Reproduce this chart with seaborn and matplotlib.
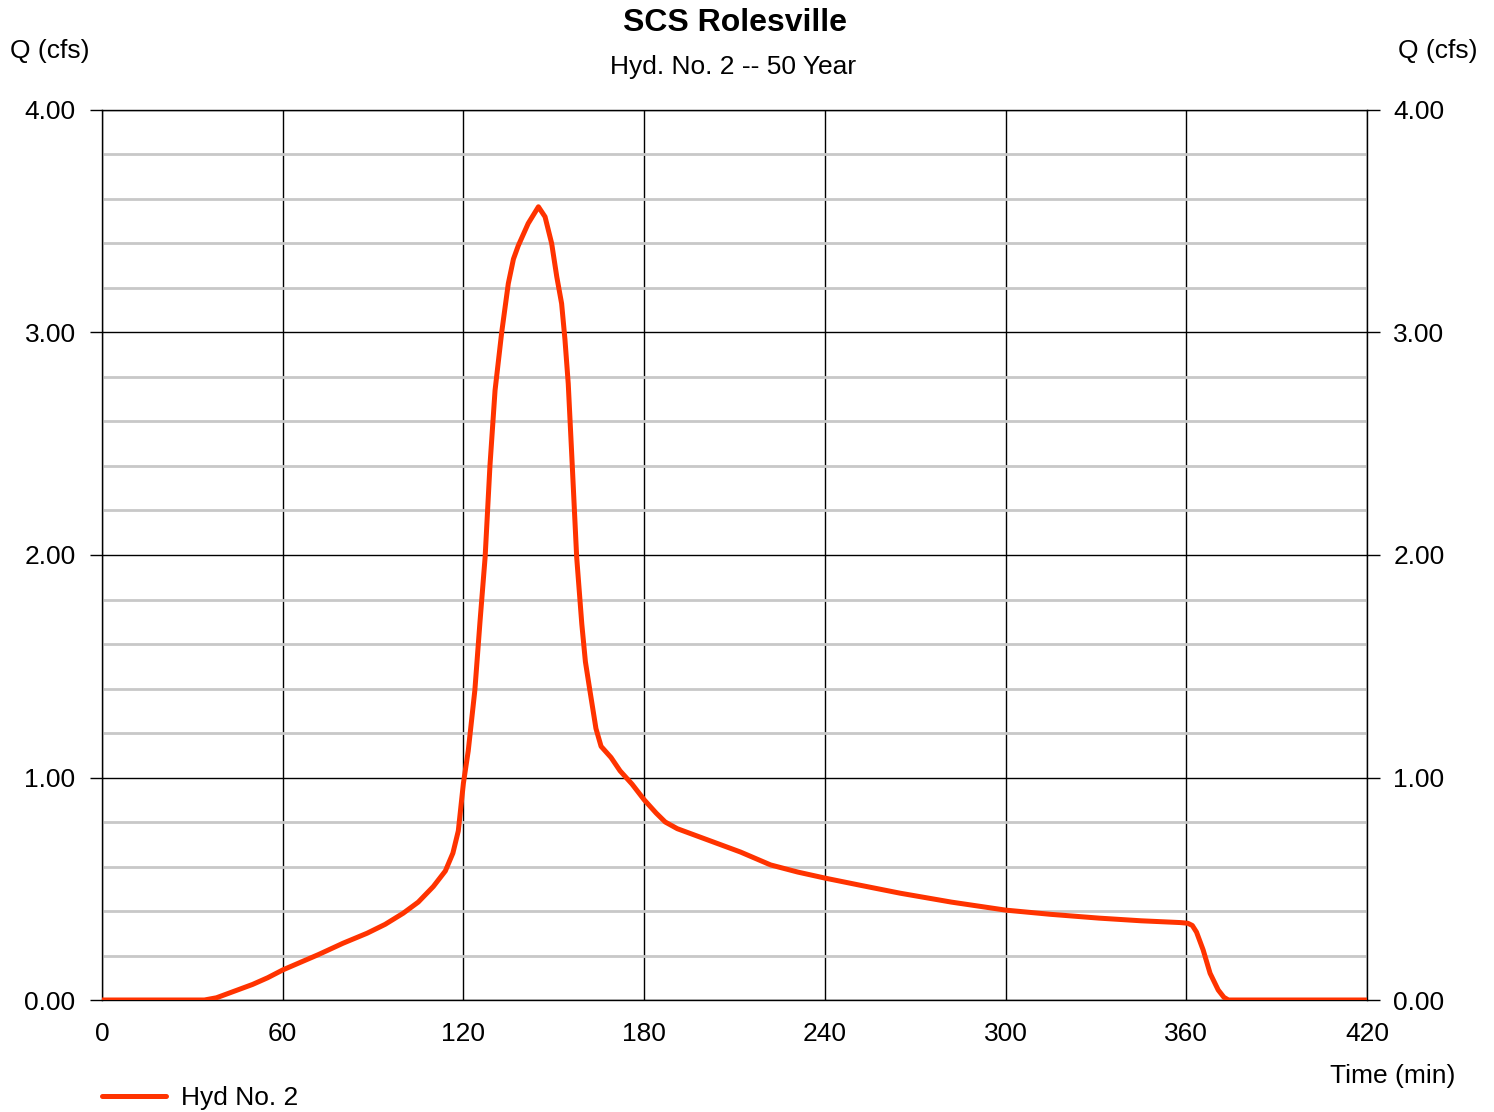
import numpy as np
import pandas as pd
import matplotlib
matplotlib.use("Agg")
import matplotlib.pyplot as plt
import seaborn as sns
from matplotlib.ticker import MultipleLocator

# hydrograph (time in min, flow in cfs)
time_min = [0, 20, 34, 38, 42, 46, 50, 55, 60, 66, 72, 80, 88, 94, 100, 105,
            110, 114, 116.5, 118.3, 120, 121.6, 123.8, 125.5, 127.2, 128.8,
            130.5, 132.7, 134.9, 136.6, 138.2, 141.5, 144.9, 147.1, 149.3,
            151.0, 152.6, 153.7, 154.8, 156.0, 157.6, 159.3, 160.5, 162.0,
            164.0, 165.7, 169, 172, 176, 180, 184, 187, 191, 195, 203, 212,
            222, 231, 240, 252, 265, 282, 300, 315, 331, 345, 358, 360.5, 362,
            363.4, 365.6, 367.9, 370.6, 372.5, 374, 390, 420]
flow_cfs = [0, 0, 0, 0.01, 0.03, 0.05, 0.07, 0.10, 0.135, 0.17, 0.205, 0.255,
            0.30, 0.34, 0.39, 0.44, 0.51, 0.58, 0.66, 0.76, 0.975, 1.12, 1.393,
            1.70, 1.99, 2.40, 2.74, 3.00, 3.22, 3.33, 3.39, 3.49, 3.565, 3.52,
            3.40, 3.25, 3.13, 2.97, 2.77, 2.44, 1.99, 1.69, 1.52, 1.39, 1.22,
            1.14, 1.09, 1.03, 0.97, 0.90, 0.84, 0.80, 0.77, 0.75, 0.71, 0.665,
            0.607, 0.575, 0.548, 0.515, 0.48, 0.44, 0.404, 0.385, 0.368,
            0.356, 0.348, 0.345, 0.335, 0.305, 0.225, 0.12, 0.045, 0.012, 0,
            0, 0]

df = pd.DataFrame({"Time (min)": time_min, "Q (cfs)": flow_cfs})

sns.set_style("white")
plt.rcParams["font.family"] = ["Liberation Sans", "DejaVu Sans"]
plt.rcParams["text.color"] = "black"
plt.rcParams["xtick.color"] = "black"
plt.rcParams["ytick.color"] = "black"

fig = plt.figure(figsize=(14.94, 11.12), dpi=100)
ax = fig.add_axes([102 / 1494, 1 - 1000 / 1112, 1265 / 1494, 890 / 1112])

sns.lineplot(data=df, x="Time (min)", y="Q (cfs)", ax=ax, color="#ff3300",
             linewidth=3.6, label="Hyd No. 2", sort=False, zorder=5)

ax.set_xlim(0, 420)
ax.set_ylim(0, 4)
ax.xaxis.set_major_locator(MultipleLocator(60))
ax.yaxis.set_major_locator(MultipleLocator(1))
ax.yaxis.set_minor_locator(MultipleLocator(0.2))
ax.yaxis.set_major_formatter(lambda v, p: f"{v:.2f}")

ax.grid(which="minor", axis="y", color="#c8c8c8", linewidth=2)
ax.grid(which="major", axis="both", color="black", linewidth=1)
ax.set_axisbelow(True)

ax.tick_params(axis="y", which="major", direction="out", length=9, width=1,
               color="black", labelsize=19, left=True, right=True,
               labelleft=True, labelright=True, pad=10)
ax.tick_params(axis="y", which="minor", length=0)
ax.tick_params(axis="x", which="major", length=0, labelsize=19, pad=16)

for s in ax.spines.values():
    s.set_color("black")
    s.set_linewidth(1)

ax.set_xlabel("")
ax.set_ylabel("")

fig.text(735 / 1494, 1 - 23 / 1112, "SCS Rolesville", ha="center", va="center",
         fontsize=23, fontweight="bold")
fig.text(733 / 1494, 1 - 67 / 1112, "Hyd. No. 2 -- 50 Year", ha="center",
         va="center", fontsize=19)
fig.text(10 / 1494, 1 - 51 / 1112, "Q (cfs)", ha="left", va="center", fontsize=19)
fig.text(1477 / 1494, 1 - 51 / 1112, "Q (cfs)", ha="right", va="center", fontsize=19)
fig.text(1455 / 1494, 1 - 1076 / 1112, "Time (min)", ha="right", va="center",
         fontsize=19)

ax.legend(loc="center left", bbox_to_anchor=(78 / 1494, 1 - 1098 / 1112),
          bbox_transform=fig.transFigure, frameon=False, fontsize=19,
          handlelength=2.45, handletextpad=0.55)

fig.savefig("out.png", dpi=100)
